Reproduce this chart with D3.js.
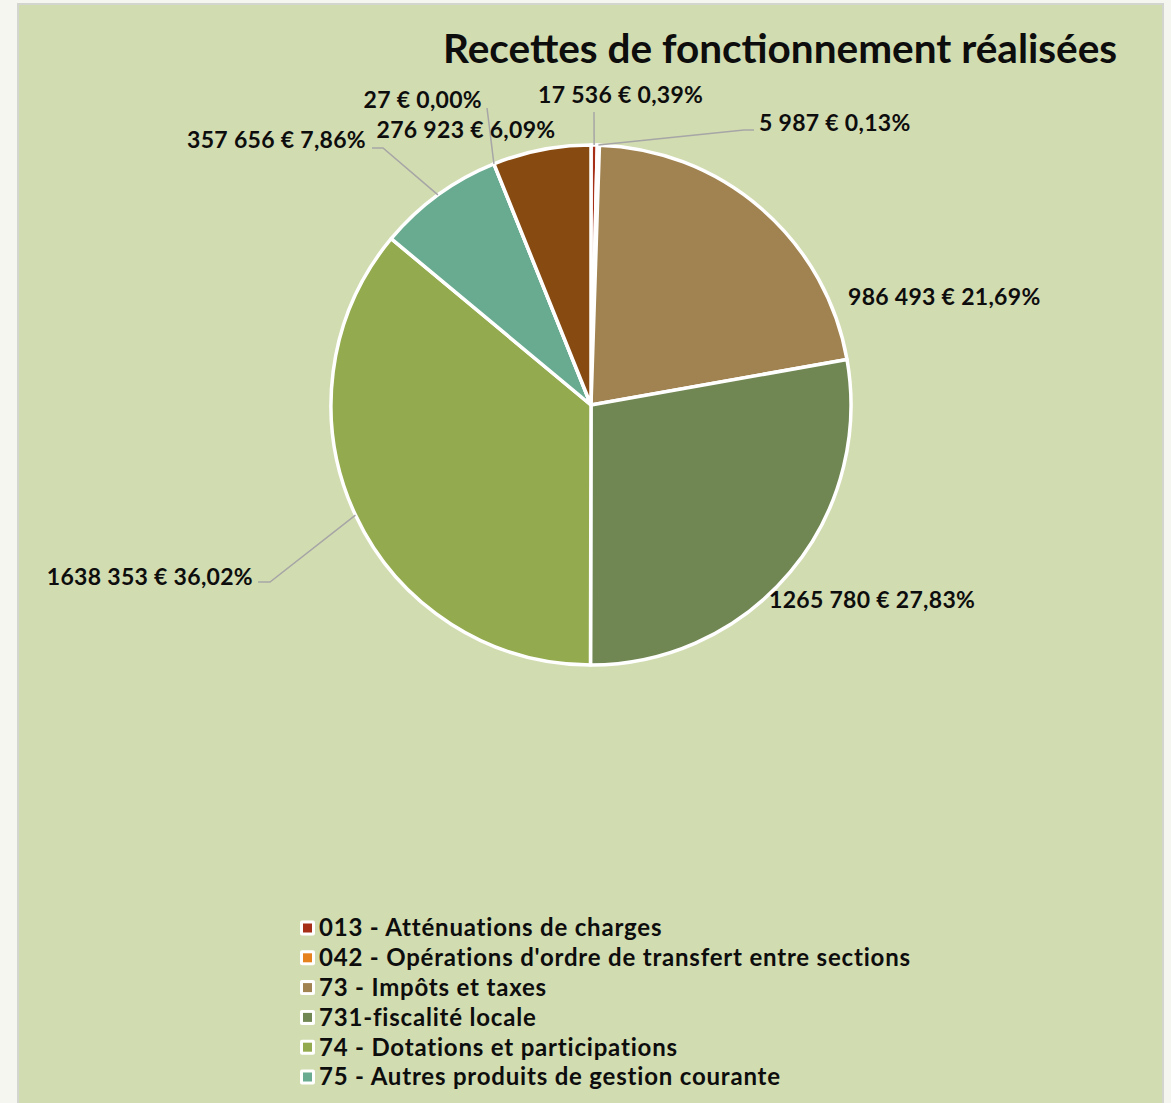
<!DOCTYPE html>
<html lang="fr">
<head>
    <meta charset="UTF-8">
    <title>Recettes de fonctionnement réalisées</title>
    <script src="https://d3js.org/d3.v7.min.js"></script>
    <style>
        html, body { margin: 0; padding: 0; background: #f4f6ef; }
        text { font-family: Lato, "Open Sans", sans-serif; font-weight: bold; fill: #0d0d0d; }
    </style>
</head>
<body>
    <div id="chart"></div>
    <script>
        // Data
        const categories = [
            "013 - Atténuations de charges",
            "042 - Opérations d'ordre de transfert entre sections",
            "73 - Impôts et taxes",
            "731-fiscalité locale",
            "74 - Dotations et participations",
            "75 - Autres produits de gestion courante",
            "76 - Produits financiers",
            "77 - Produits exceptionnels"
        ];
        const amounts = [17536, 5987, 986493, 1265780, 1638353, 357656, 27, 276923];
        const percentLabels = ["0,39%", "0,13%", "21,69%", "27,83%", "36,02%", "7,86%", "0,00%", "6,09%"];
        const colors = ["#a52f17", "#e6821e", "#a08350", "#718753", "#93aa4e", "#69ab90", "#4f6228", "#874a10"];
        // the legend in the chart is cut off after this many entries
        const legendShown = 6;

        const width = 1171;
        const height = 1103;

        const svg = d3.select("#chart")
            .append("svg")
            .attr("width", width)
            .attr("height", height);

        // Chart area
        svg.append("rect")
            .attr("x", 18)
            .attr("y", 4)
            .attr("width", 1145)
            .attr("height", 1120)
            .attr("fill", "#d2dcb1")
            .attr("stroke", "#d3d5cf")
            .attr("stroke-width", 2);

        svg.append("text")
            .attr("x", 443)
            .attr("y", 63)
            .attr("font-size", 40.5)
            .text("Recettes de fonctionnement réalisées");

        // Pie
        const cx = 591, cy = 405, radius = 260;
        const data = categories.map((c, i) => ({ name: c, value: amounts[i], pct: percentLabels[i], color: colors[i] }));

        const pie = d3.pie().value(d => d.value).sort(null);
        const arcs = pie(data);
        const arc = d3.arc().innerRadius(0).outerRadius(radius);

        const g = svg.append("g").attr("transform", `translate(${cx},${cy})`);
        g.selectAll("path")
            .data(arcs)
            .enter()
            .append("path")
            .attr("d", arc)
            .attr("fill", d => d.data.color)
            .attr("stroke", "#ffffff")
            .attr("stroke-width", 3.5)
            .attr("stroke-linejoin", "round");

        // Label placement (Excel best fit): text anchor point and optional leader knee
        const labelLayout = [
            { x: 538, y: 95, anchor: "start", leader: [[594, 112]] },
            { x: 759, y: 123, anchor: "start", leader: [[754, 130], [744, 130]] },
            { x: 848, y: 297, anchor: "start" },
            { x: 769, y: 600, anchor: "start" },
            { x: 253, y: 577, anchor: "end", leader: [[258, 582], [270, 582]] },
            { x: 366, y: 140, anchor: "end", leader: [[372, 148], [383, 148]] },
            { x: 482, y: 100, anchor: "end", leader: [[487, 108]] },
            { x: 466, y: 130, anchor: "middle" }
        ];

        // Excel keeps the millions with the thousands ("1638 353")
        const fmtNum = v => {
            const s = String(v);
            if (s.length <= 3) return s;
            return s.slice(0, s.length - 3) + " " + s.slice(-3);
        };

        const line = d3.line();
        arcs.forEach((a, i) => {
            const L = labelLayout[i];
            if (L.leader) {
                const mid = (a.startAngle + a.endAngle) / 2;
                const p = [cx + radius * Math.sin(mid), cy - radius * Math.cos(mid)];
                svg.append("path")
                    .attr("d", line(L.leader.concat([p])))
                    .attr("fill", "none")
                    .attr("stroke", "#a6a6a6")
                    .attr("stroke-width", 1.5);
            }
            svg.append("text")
                .attr("x", L.x)
                .attr("y", L.y)
                .attr("dy", "0.35em")
                .attr("text-anchor", L.anchor)
                .attr("font-size", 23)
                .attr("letter-spacing", 0.3)
                .text(`${fmtNum(a.data.value)} € ${a.data.pct}`);
        });

        // Legend
        const legendY = d3.scaleLinear().domain([0, 1]).range([928, 957.8]);
        const legend = svg.append("g");
        const items = legend.selectAll("g")
            .data(data.slice(0, legendShown))
            .enter()
            .append("g")
            .attr("transform", (d, i) => `translate(300,${legendY(i)})`);
        items.append("rect")
            .attr("x", 0).attr("y", -7.5)
            .attr("width", 15).attr("height", 15)
            .attr("rx", 2)
            .attr("fill", "#ffffff");
        items.append("rect")
            .attr("x", 3).attr("y", -4.5)
            .attr("width", 9).attr("height", 9)
            .attr("fill", d => d.color);
        items.append("text")
            .attr("x", 19)
            .attr("dy", "0.35em")
            .attr("font-size", 24)
            .attr("letter-spacing", 0.8)
            .text(d => d.name);
    </script>
</body>
</html>
